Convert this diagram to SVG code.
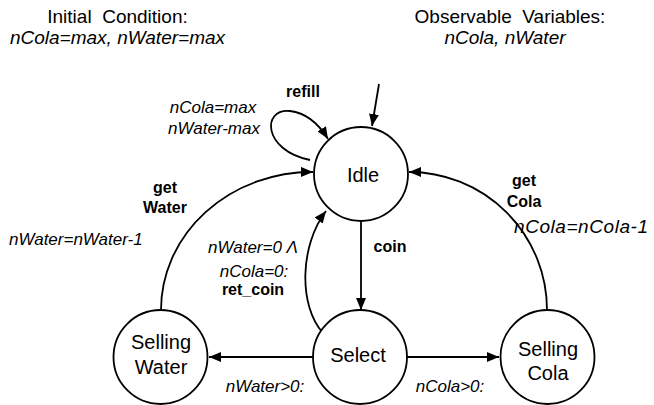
<svg xmlns="http://www.w3.org/2000/svg" width="654" height="405" viewBox="0 0 654 405">
<defs>
<marker id="arr" viewBox="0 0 12 10" refX="12" refY="5" markerWidth="12" markerHeight="10" orient="auto" markerUnits="userSpaceOnUse"><path d="M0,0 L12,5 L0,10 z" fill="#000"/></marker>
<style>
.st{fill:#fff;stroke:#000;stroke-width:1.8}
.ln{fill:none;stroke:#000;stroke-width:1.8;marker-end:url(#arr)}
.nd{font-family:"Liberation Sans",Arial,sans-serif;font-size:20px;text-anchor:middle;fill:#000}
.hd{font-family:"Liberation Sans",Arial,sans-serif;font-size:19px;text-anchor:middle;fill:#000;white-space:pre}
.it{font-family:"Liberation Sans",Arial,sans-serif;font-size:17px;font-style:italic;text-anchor:middle;fill:#000}
.bd{font-family:"Liberation Sans",Arial,sans-serif;font-size:16px;font-weight:bold;text-anchor:middle;fill:#000}
.ls{text-anchor:start}
.big{font-size:19px}
</style>
</defs>
<rect width="654" height="405" fill="#fff"/>
<g id="header">
<text class="hd" x="117.5" y="23" xml:space="preserve">Initial  Condition:</text>
<text class="hd" x="117.5" y="44" font-style="italic">nCola=max, nWater=max</text>
<text class="hd" x="510" y="23" xml:space="preserve">Observable  Variables:</text>
<text class="hd" x="505" y="44" font-style="italic">nCola, nWater</text>
</g>
<g id="connectors">
<path class="ln" d="M379,84 L372,126"/>
<path class="ln" d="M310,160 C262,150 262,108 290,111 C307,113 320,126 328,139"/>
<path class="ln" d="M161,310 A151,138 0 0 1 313,172"/>
<path class="ln" d="M547,310 A138,138 0 0 0 409,172"/>
<path class="ln" d="M361,220 L361,310"/>
<path class="ln" d="M323,333 C298,305 300,245 326,211"/>
<path class="ln" d="M313,357 L209,357"/>
<path class="ln" d="M407,357 L499,357"/>
</g>
<g id="labels">
<text class="bd" x="303" y="97">refill</text>
<text class="it" x="213" y="113">nCola=max</text>
<text class="it" x="214" y="134">nWater-max</text>
<text class="bd" x="165" y="193">get</text>
<text class="bd" x="165" y="213">Water</text>
<text class="it ls" x="9" y="245">nWater=nWater-1</text>
<text class="it" x="253" y="253">nWater=0 Λ</text>
<text class="it" x="254" y="277">nCola=0:</text>
<text class="bd" x="253" y="295">ret_coin</text>
<text class="bd" x="390" y="252">coin</text>
<text class="bd" x="524" y="186">get</text>
<text class="bd" x="524" y="207">Cola</text>
<text class="it ls big" x="514" y="233" textLength="134" lengthAdjust="spacing">nCola=nCola-1</text>
<text class="it" x="265" y="392">nWater&gt;0:</text>
<text class="it" x="450" y="392">nCola&gt;0:</text>
</g>
<g id="idle">
<circle class="st" cx="361" cy="174" r="47"/>
<text class="nd" x="363" y="182">Idle</text>
</g>
<g id="select">
<circle class="st" cx="360" cy="357" r="47"/>
<text class="nd" x="358" y="362">Select</text>
</g>
<g id="selling-water">
<circle class="st" cx="160.5" cy="357" r="47"/>
<text class="nd" x="161" y="349">Selling</text>
<text class="nd" x="161" y="374">Water</text>
</g>
<g id="selling-cola">
<circle class="st" cx="547.5" cy="357" r="47"/>
<text class="nd" x="548" y="356">Selling</text>
<text class="nd" x="548" y="380">Cola</text>
</g>
</svg>
